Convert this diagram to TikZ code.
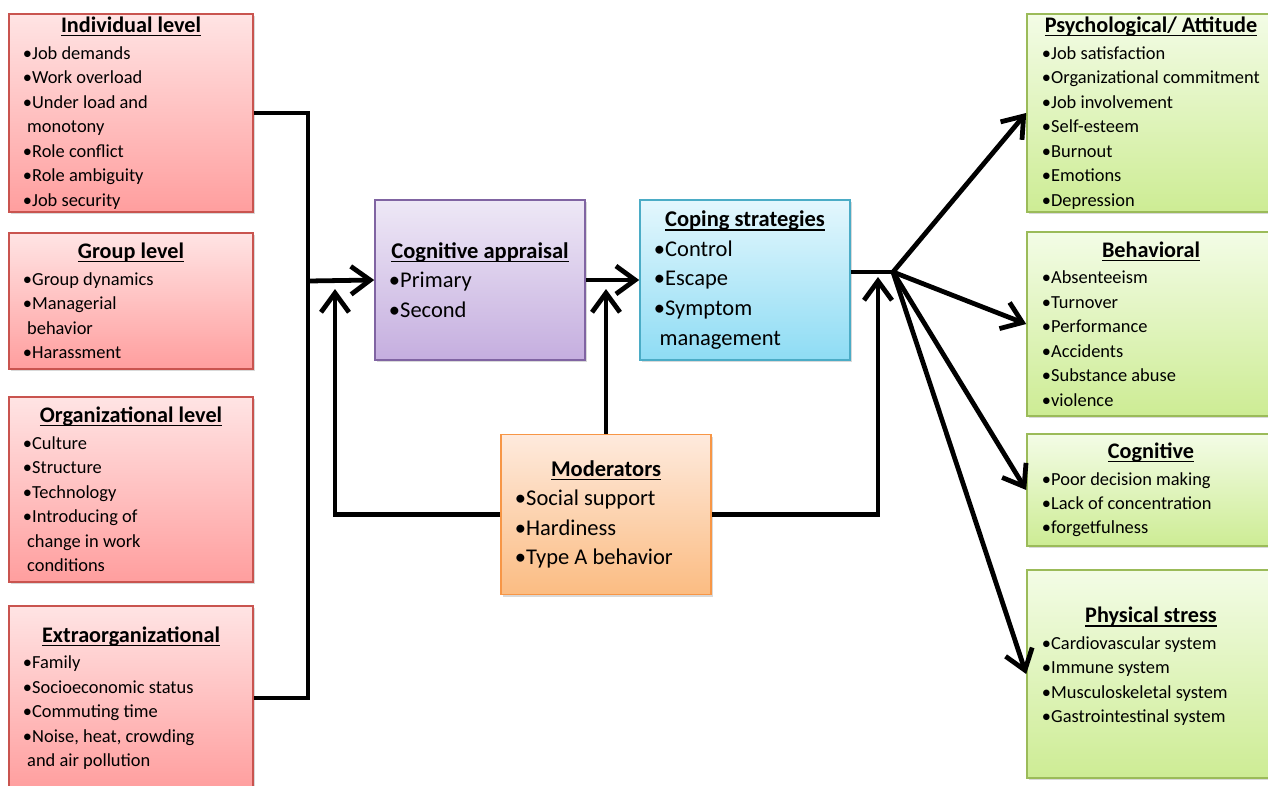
\documentclass[tikz,border=0pt]{standalone}
\usepackage{fontspec}
\setmainfont{Carlito}
\usepackage{tikz}
\usetikzlibrary{arrows.meta,shadows}
\definecolor{redtop}{HTML}{FFE4E4}
\definecolor{redbot}{HTML}{FF9E9E}
\definecolor{redline}{HTML}{C9544F}
\definecolor{grntop}{HTML}{F3FCE6}
\definecolor{grnbot}{HTML}{CDEC94}
\definecolor{grnline}{HTML}{9BBB59}
\definecolor{purtop}{HTML}{EEE8F6}
\definecolor{purbot}{HTML}{C5AEDF}
\definecolor{purline}{HTML}{8064A2}
\definecolor{cyntop}{HTML}{E4F7FD}
\definecolor{cynbot}{HTML}{8EDCF4}
\definecolor{cynline}{HTML}{4BACC6}
\definecolor{orgtop}{HTML}{FEEADD}
\definecolor{orgbot}{HTML}{FBBC82}
\definecolor{orgline}{HTML}{F79646}
\newcommand{\undl}[1]{\setbox0\hbox{#1}\rlap{\rule[-2.6pt]{\wd0}{0.9pt}}\box0}
\newcommand{\ttl}[1]{\spaceskip=0pt\xspaceskip=0pt\makebox[\linewidth]{\bfseries\undl{#1}}}
\newcommand{\sttl}[1]{\spaceskip=0pt\xspaceskip=0pt\makebox[\linewidth]{\fontsize{15.8}{19}\selectfont\bfseries\undl{#1}}}
\newcommand{\ind}{\hspace*{3pt}}
\tikzset{
  >={Straight Barb[length=4.8mm,width=7mm]},
  box/.style={draw,line width=1.1pt,inner sep=0pt,align=left,
    drop shadow={shadow xshift=1.6pt,shadow yshift=-1.6pt,opacity=0.3}},
  sidebox/.style={box,text width=5.4cm,font=\fontsize{13.1}{17.4}\selectfont},
  redbox/.style={sidebox,minimum width=6.1cm,draw=redline,top color=redtop,bottom color=redbot},
  grnbox/.style={sidebox,minimum width=6.2cm,text width=5.45cm,draw=grnline,top color=grntop,bottom color=grnbot},
  midbox/.style={box,minimum width=5.25cm,minimum height=4cm,text width=4.55cm,font=\fontsize{16}{21}\selectfont},
  conn/.style={draw=black,line width=3.4pt},
  arr/.style={conn,->},
}
\begin{document}
\begin{tikzpicture}[x=0.025cm,y=-0.025cm]
  \useasboundingbox (0,0) rectangle (1268,785);
  % stressors
  \node[redbox,minimum height=4.95cm] (indiv) at (131,113) {\sttl{Individual level}\\[1.5pt]
    •Job demands\\ •Work overload\\ •Under load and\\ \ind monotony\\ •Role conflict\\ •Role ambiguity\\ •Job security};
  \node[redbox,minimum height=3.4cm] (group) at (131,301) {\sttl{Group level}\\[1.5pt]
    •Group dynamics\\ •Managerial\\ \ind behavior\\ •Harassment};
  \node[redbox,minimum height=4.625cm] (orga) at (131,489.5) {\sttl{Organizational level}\\[1.5pt]
    •Culture\\ •Structure\\ •Technology\\ •Introducing of\\ \ind change in work\\ \ind conditions};
  \node[redbox,minimum height=4.6cm] (extra) at (131,698) {\sttl{Extraorganizational}\\[1.5pt]
    •Family\\ •Socioeconomic status\\ •Commuting time\\ •Noise, heat, crowding\\ \ind and air pollution};
  % process
  \node[midbox,draw=purline,top color=purtop,bottom color=purbot] (appr) at (480,280)
    {\ttl{Cognitive appraisal}\\ •Primary\\ •Second};
  \node[midbox,draw=cynline,top color=cyntop,bottom color=cynbot] (coping) at (745,280)
    {\ttl{Coping strategies}\\ •Control\\ •Escape\\ •Symptom\\ \hspace*{4pt}management};
  \node[midbox,draw=orgline,top color=orgtop,bottom color=orgbot] (moder) at (606,514.5)
    {\ttl{Moderators}\\ •Social support\\ •Hardiness\\ •Type A behavior};
  % outcomes
  \node[grnbox,minimum height=4.95cm] (psych) at (1151,113) {\sttl{Psychological/ Attitude}\\[1.5pt]
    •Job satisfaction\\ \mbox{•Organizational commitment}\\ •Job involvement\\ •Self-esteem\\ •Burnout\\ •Emotions\\ •Depression};
  \node[grnbox,minimum height=4.6cm] (behav) at (1151,324) {\sttl{Behavioral}\\[1.5pt]
    •Absenteeism\\ •Turnover\\ •Performance\\ •Accidents\\ •Substance abuse\\ •violence};
  \node[grnbox,minimum height=2.8cm] (cogn) at (1151,490) {\sttl{Cognitive}\\[1.5pt]
    •Poor decision making\\ •Lack of concentration\\ •forgetfulness};
  \node[grnbox,minimum height=5.2cm] (phys) at (1151,674) {\sttl{Physical stress}\\[1.5pt]
    •Cardiovascular system\\ •Immune system\\ •Musculoskeletal system\\ •Gastrointestinal system\\[-4.7pt]\mbox{}};
  % connectors
  \coordinate (bus) at (308,281);
  \coordinate (lret) at (335,289);
  \coordinate (mret) at (606,289);
  \coordinate (rret) at (878,277);
  \coordinate (split) at (893,272);
  \draw[conn] (indiv.east) -| (bus) |- (extra.east);
  \draw[arr] (bus) -- (appr.west);
  \draw[arr] (appr.east) -- (coping.west);
  \draw[arr] (moder.west) -| (lret);
  \draw[arr] (moder.north) -- (mret);
  \draw[arr] (moder.east) -| (rret);
  \draw[conn] (coping.east |- split) -- (split);
  \foreach \t in {psych,behav,cogn,phys}
    \draw[arr] (split) -- (\t.west);
\end{tikzpicture}
\end{document}
